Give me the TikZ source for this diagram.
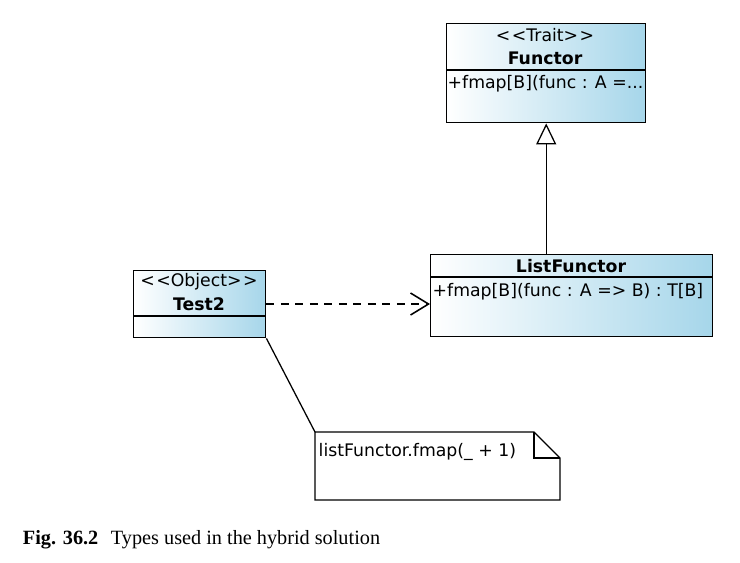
\documentclass[tikz,border=0pt]{standalone}
\usepackage{fontspec}
\setmainfont{DejaVu Sans}
\newfontfamily\captionfont{Liberation Serif}
\usetikzlibrary{arrows.meta}
\definecolor{umlblue}{RGB}{166,214,234}

\begin{document}
\begin{tikzpicture}[x=0.025cm,y=-0.025cm]
\def\u{0.025cm}
\def\lw{1pt}
\def\st#1{<\kern1pt<#1>\kern1pt>}
\tikzset{umlbox/.style={draw,black,line width=\lw,left color=white,right color=umlblue,inner sep=0pt},
         umltext/.style={font=\fontsize{12.3}{14}\selectfont,inner sep=1pt}}
\useasboundingbox (0,0) rectangle (740,562);

% trait
\node [umlbox, anchor=north west, minimum width=199*\u, minimum height=99*\u, name=functor] at (446,23){};
\node [umltext, name=functorst] at (545,35){\st{Trait}};
\node [umltext, font=\fontsize{12.3}{14}\selectfont\bfseries, name=functorname] at (545,58){Functor};
\draw [line width=\lw] (functor.west |- 0,70) -- (functor.east |- 0,70);
\node [umltext, anchor=west, name=functorop] at (446,84){+fmap[B](func : A =...};

% class
\node [umlbox, anchor=north west, minimum width=282*\u, minimum height=82*\u, name=listfunctor] at (430,254){};
\node [umltext, font=\fontsize{12.3}{14}\selectfont\bfseries, name=listname] at (571,266){ListFunctor};
\draw [line width=\lw] (listfunctor.west |- 0,277) -- (listfunctor.east |- 0,277);
\node [umltext, anchor=west, name=listop] at (431,292){+fmap[B](func : A => B) : T[B]};

% object
\node [umlbox, anchor=north west, minimum width=132*\u, minimum height=67*\u, name=test2] at (133,270){};
\node [umltext, name=test2st] at (199,282){\st{Object}};
\node [umltext, font=\fontsize{12.3}{14}\selectfont\bfseries, name=test2name] at (199,304){Test2};
\draw [line width=\lw] (test2.west |- 0,316) -- (test2.east |- 0,316);

% note
\node [anchor=north west, minimum width=245*\u, minimum height=68*\u, inner sep=0pt, name=note] at (315,432){};
\draw [line width=\lw] (315,432) -- (534,432) -- (560,458) -- (560,500) -- (315,500) -- cycle;
\draw [line width=\lw] (534,432) -- (534,458) -- (560,458);
\node [umltext, anchor=west, name=notetext] at (317,452){listFunctor.fmap(\_ + 1)};

% connectors
\draw [line width=0.9pt, -{Triangle[open, length=21*\u, width=20*\u]}] (functor.south |- listfunctor.north) -- (functor.south);
\draw [line width=1.1pt, dash pattern=on 8*\u off 6.5*\u, -{Straight Barb[length=18*\u, width=22*\u]}] (test2.east |- 0,304) -- (listfunctor.west |- 0,304);
\draw [line width=0.9pt] (test2.south east) -- (note.north west);

% caption
\node [anchor=west, font=\captionfont\fontsize{14.4}{16}\selectfont, name=caption] at (18,540){\textbf{Fig. 36.2}\hspace{9pt}Types used in the hybrid solution};
\end{tikzpicture}
\end{document}
